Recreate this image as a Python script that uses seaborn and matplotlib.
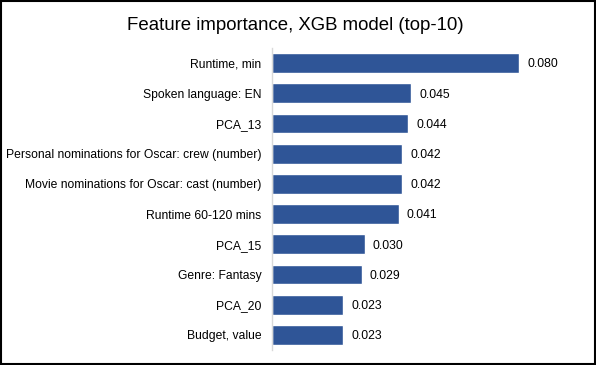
import matplotlib
matplotlib.use("Agg")
import matplotlib.pyplot as plt
import seaborn as sns
import pandas as pd

features = [
    "Runtime, min",
    "Spoken language: EN",
    "PCA_13",
    "Personal nominations for Oscar: crew (number)",
    "Movie nominations for Oscar: cast (number)",
    "Runtime 60-120 mins",
    "PCA_15",
    "Genre: Fantasy",
    "PCA_20",
    "Budget, value",
]
importance = [0.080, 0.045, 0.044, 0.042, 0.042, 0.041, 0.030, 0.029, 0.023, 0.023]

df = pd.DataFrame({"feature": features, "importance": importance})

sns.set_style("white")
plt.rcParams["font.family"] = ["Liberation Sans", "DejaVu Sans"]

W, H = 596, 365
fig = plt.figure(figsize=(W / 100, H / 100), dpi=100)
ax = fig.add_axes([272 / W, 15 / H, (590 - 272) / W, (350 - 48) / H])

sns.barplot(data=df, x="importance", y="feature", orient="h",
            color="#2F5597", saturation=1, width=0.66, ax=ax)

# scale so that 0.080 ends at about x=519 px
ax.set_xlim(0, 0.080 * (590 - 272) / (519 - 272))
ax.set_ylim(9.5, -0.5)

for i, v in enumerate(importance):
    ax.text(v + 0.0027, i + 0.04, f"{v:.3f}", va="center", ha="left", fontsize=8.8, color="black")

ax.set_xlabel("")
ax.set_ylabel("")
ax.set_xticks([])
ax.tick_params(axis="y", length=0, pad=7.5, labelsize=8.7, labelcolor="black")
for s in ["top", "right", "bottom"]:
    ax.spines[s].set_visible(False)
ax.spines["left"].set_color("#D9D9D9")
ax.spines["left"].set_linewidth(1)

fig.text(0.495, 1 - 25 / H, "Feature importance, XGB model (top-10)",
         ha="center", va="center", fontsize=13.4, color="black")

# outer border
border = plt.Rectangle((0.0015, 0.002), 0.997, 0.995, transform=fig.transFigure,
                       fill=False, edgecolor="black", linewidth=1.5)
fig.patches.append(border)

fig.savefig("out.png", dpi=100)
